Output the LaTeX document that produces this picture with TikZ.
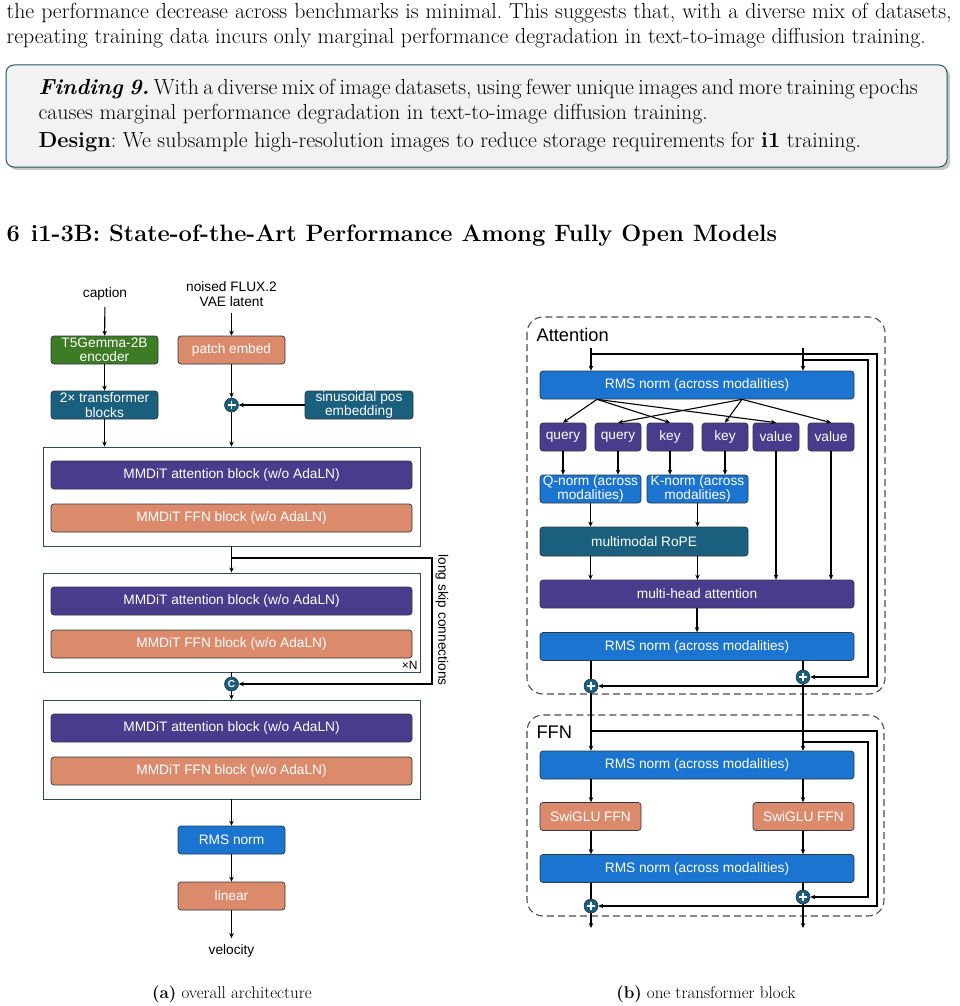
\documentclass[tikz,border=0pt]{standalone}
\usepackage{fontspec}
\setsansfont{Liberation Sans}
\usetikzlibrary{arrows.meta}

\definecolor{tgreen}{HTML}{3D7B25}
\definecolor{tsalmon}{HTML}{DB8A6B}
\definecolor{tpurple}{HTML}{4A3C8C}
\definecolor{tteal}{HTML}{1A5F7E}
\definecolor{tblue}{HTML}{1B75D0}
\definecolor{tedge}{HTML}{2B3945}
\definecolor{tframe}{HTML}{30495A}
\definecolor{fbord}{HTML}{1E5B5C}
\definecolor{fbg}{HTML}{F2F2F2}

\frenchspacing

\begin{document}
\begin{tikzpicture}[x=1pt,y=-1pt,line width=1.1pt,
  arr/.style={-{Stealth[length=5pt,width=4.5pt]}},
  txt/.style={font=\sffamily\fontsize{13.7}{14.5}\selectfont,align=center,inner sep=0pt},
  free/.style={txt,inner sep=6pt},
  blk/.style={txt,draw=tedge,line width=0.7pt,rounded corners=3pt,text=white,minimum height=28pt},
  grnblk/.style={blk,fill=tgreen},
  salblk/.style={blk,fill=tsalmon},
  purblk/.style={blk,fill=tpurple},
  tealblk/.style={blk,fill=tteal},
  blublk/.style={blk,fill=tblue},
  outer/.style={draw=tframe,line width=0.9pt,fill=white,minimum width=377pt,minimum height=99pt,inner sep=0pt},
  dbox/.style={draw=black!70,dash pattern=on 7pt off 4pt,line width=1.1pt,rounded corners=16pt},
  sum/.style={circle,fill=tteal,draw=tedge,line width=0.6pt,minimum size=14pt,inner sep=0pt,
    path picture={\draw[white,line width=1.6pt]
      ([yshift=-3pt]path picture bounding box.north) -- ([yshift=3pt]path picture bounding box.south)
      ([xshift=3pt]path picture bounding box.west) -- ([xshift=-3pt]path picture bounding box.east);}},
  catc/.style={circle,fill=tteal,draw=tedge,line width=0.6pt,minimum size=14pt,inner sep=0pt,
    text=white,font=\sffamily\bfseries\fontsize{10}{10}\selectfont},
  body/.style={font=\fontsize{21.8}{24}\selectfont,inner sep=0pt,anchor=base west},
  capt/.style={font=\fontsize{17}{20}\selectfont,inner sep=0pt,anchor=base},
  head/.style={font=\sffamily\fontsize{18.3}{20}\selectfont,inner sep=0pt,anchor=base west}]

\useasboundingbox (0,0) rectangle (959,1006);

% running text above the figure
\node[body] (p1) at (6,19) {\makebox[945pt][s]{the performance decrease across benchmarks is minimal. This suggests that, with a diverse mix of datasets,}};
\node[body] (p2) at (6,44) {repeating training data incurs only marginal performance degradation in text-to-image diffusion training.};

% finding box
\fill[black!22,rounded corners=8pt] (9,68) rectangle (950,170);
\draw[draw=fbord,fill=fbg,rounded corners=8pt,line width=1pt] (6,65) rectangle (947,167);
\node[body] (f1) at (38,95) {\makebox[877pt][s]{\textbf{\textit{Finding 9.}} With a diverse mix of image datasets, using fewer unique images and more training epochs}};
\node[body] (f2) at (38,120) {causes marginal performance degradation in text-to-image diffusion training.};
\node[body] (f3) at (38,147) {\textbf{Design}: We subsample high-resolution images to reduce storage requirements for \textbf{i1} training.};

\node[body,font=\bfseries\fontsize{23.7}{28}\selectfont] (sec) at (6,241) {6\hspace{11pt}i1-3B: State-of-the-Art Performance Among Fully Open Models};

%%% (a) overall architecture
\node[free] (cap) at (105,294) {caption};
\node[free] (lat) at (231.5,294) {noised FLUX.2\\VAE latent};

\node[grnblk,minimum width=107pt] (t5) at (104.5,350) {T5Gemma-2B\\encoder};
\node[salblk,minimum width=107pt] (patch) at (231.5,350) {patch embed};
\node[tealblk,minimum width=107pt] (tfb) at (104.5,405) {2× transformer\\blocks};
\node[sum] (add1) at (231.5,405) {};
\node[tealblk,minimum width=108pt] (sin) at (359,405) {sinusoidal pos\\embedding};

% the three MMDiT groups
\node[outer] (blkA) at (231.5,496.5) {};
\node[purblk,minimum width=361pt] (attA) at (231.5,475) {MMDiT attention block (w/o AdaLN)};
\node[salblk,minimum width=361pt] (ffnA) at (231.5,518) {MMDiT FFN block (w/o AdaLN)};

\node[outer] (blkB) at (231.5,622.5) {};
\node[purblk,minimum width=361pt] (attB) at (231.5,601) {MMDiT attention block (w/o AdaLN)};
\node[salblk,minimum width=361pt] (ffnB) at (231.5,644) {MMDiT FFN block (w/o AdaLN)};
\node[txt,anchor=south east,font=\sffamily\fontsize{12}{12}\selectfont] (xn) at (418,670) {×N};

\node[catc] (cat) at (231.5,684) {C};

\node[outer] (blkC) at (231.5,749.5) {};
\node[purblk,minimum width=361pt] (attC) at (231.5,728) {MMDiT attention block (w/o AdaLN)};
\node[salblk,minimum width=361pt] (ffnC) at (231.5,771) {MMDiT FFN block (w/o AdaLN)};

\node[blublk,minimum width=107pt] (rms) at (231.5,840) {RMS norm};
\node[salblk,minimum width=107pt] (lin) at (231.5,896) {linear};
\node[free] (vel) at (231.5,951) {velocity};

\draw[arr] (cap) -- (t5);
\draw[arr] (lat) -- (patch);
\draw[arr] (t5) -- (tfb);
\draw[arr] (patch) -- (add1);
\draw[arr] (sin) -- (add1);
\draw[arr] (tfb) -- (tfb |- blkA.north);
\draw[arr] (add1) -- (add1 |- blkA.north);
\draw[arr] (blkA) -- (blkB);

% long skip
\coordinate (sk1) at (231.5,558);
\coordinate (sk2) at (432,558);
\draw[arr] (sk1) -- (sk2) |- (cat);
\node[txt,rotate=-90] (skl) at (442,620) {long skip connections};

\draw (blkB) -- (cat);
\draw[arr] (cat) -- (blkC);
\draw[arr] (blkC) -- (rms);
\draw[arr] (rms) -- (lin);
\draw[arr] (lin) -- (vel);

\node[capt] (capa) at (232,998) {\textbf{(a)} overall architecture};

%%% (b) one transformer block
\draw[dbox] (527,317) rectangle (885,694);
\node[head] (hatt) at (536,341) {Attention};
\draw[dbox] (527,715) rectangle (884,916);
\node[head] (hffn) at (536,738) {FFN};

\node[blublk,minimum width=314pt] (rmsA) at (697,385) {RMS norm (across modalities)};
\node[purblk,minimum width=46pt] (q1) at (563,437) {query};
\node[purblk,minimum width=46pt] (q2) at (618,437) {query};
\node[purblk,minimum width=46pt] (k1) at (670,437) {key};
\node[purblk,minimum width=46pt] (k2) at (725,437) {key};
\node[purblk,minimum width=46pt] (v1) at (776,437) {value};
\node[purblk,minimum width=46pt] (v2) at (831,437) {value};
\node[blublk,minimum width=101pt] (qn) at (590.5,489) {Q-norm (across\\modalities)};
\node[blublk,minimum width=101pt] (kn) at (697.5,489) {K-norm (across\\modalities)};
\node[tealblk,minimum width=208pt,minimum height=29pt] (rope) at (644,541.5) {multimodal RoPE};
\node[purblk,minimum width=314pt] (mha) at (697,594) {multi-head attention};
\node[blublk,minimum width=314pt] (rmsB) at (697,646.5) {RMS norm (across modalities)};
\node[sum] (addL) at (591,686) {};
\node[sum] (addR) at (803,677) {};

\node[blublk,minimum width=314pt] (rmsC) at (697,765) {RMS norm (across modalities)};
\node[salblk,minimum width=101pt] (swL) at (590.5,816.5) {SwiGLU FFN};
\node[salblk,minimum width=101pt] (swR) at (803.5,816.5) {SwiGLU FFN};
\node[blublk,minimum width=314pt] (rmsD) at (697,868.5) {RMS norm (across modalities)};
\node[sum] (addL2) at (591,906) {};
\node[sum] (addR2) at (803,897) {};

% inputs and residual lines of the attention part
\coordinate (inL) at (591,348);
\coordinate (inR) at (803,348);
\coordinate (rL) at (877,354);
\coordinate (rR) at (868,360);
\draw[arr] (inL) -- (inL |- rmsA.north);
\draw[arr] (inR) -- (inR |- rmsA.north);
\draw[arr] (inL |- rL) -- (rL) |- (addL);
\draw[arr] (inR |- rR) -- (rR) |- (addR);

% split into query, key, value
\coordinate (sL) at ([xshift=-100pt]rmsA.south);
\coordinate (sR) at ([xshift=45pt]rmsA.south);
\foreach \t in {q1,k1,v1} \draw[arr] (sL) -- (\t.north);
\foreach \t in {q2,k2,v2} \draw[arr] (sR) -- (\t.north);

\draw[arr] (q1) -- (q1 |- qn.north);
\draw[arr] (q2) -- (q2 |- qn.north);
\draw[arr] (k1) -- (k1 |- kn.north);
\draw[arr] (k2) -- (k2 |- kn.north);
\draw[arr] (v1) -- (v1 |- mha.north);
\draw[arr] (v2) -- (v2 |- mha.north);
\draw[arr] (qn) -- (qn |- rope.north);
\draw[arr] (kn) -- (kn |- rope.north);
\draw[arr] (qn |- rope.south) -- (qn |- mha.north);
\draw[arr] (kn |- rope.south) -- (kn |- mha.north);
\draw[arr] (mha) -- (rmsB);
\draw (addL |- rmsB.south) -- (addL);
\draw (addR |- rmsB.south) -- (addR);

% FFN part
\draw[arr] (addL) -- (addL |- rmsC.north);
\draw[arr] (addR) -- (addR |- rmsC.north);
\coordinate (fL) at (877,731);
\coordinate (fR) at (868,742);
\draw[arr] (addL |- fL) -- (fL) |- (addL2);
\draw[arr] (addR |- fR) -- (fR) |- (addR2);

\draw[arr] (addL |- rmsC.south) -- (addL |- swL.north);
\draw[arr] (addR |- rmsC.south) -- (addR |- swR.north);
\draw[arr] (addL |- swL.south) -- (addL |- rmsD.north);
\draw[arr] (addR |- swR.south) -- (addR |- rmsD.north);
\draw (addL2 |- rmsD.south) -- (addL2);
\draw (addR2 |- rmsD.south) -- (addR2);

\coordinate (oL) at (591,928);
\coordinate (oR) at (803,928);
\draw[arr] (addL2) -- (oL);
\draw[arr] (addR2) -- (oR);

\node[capt] (capb) at (706,998) {\textbf{(b)} one transformer block};

\end{tikzpicture}
\end{document}
